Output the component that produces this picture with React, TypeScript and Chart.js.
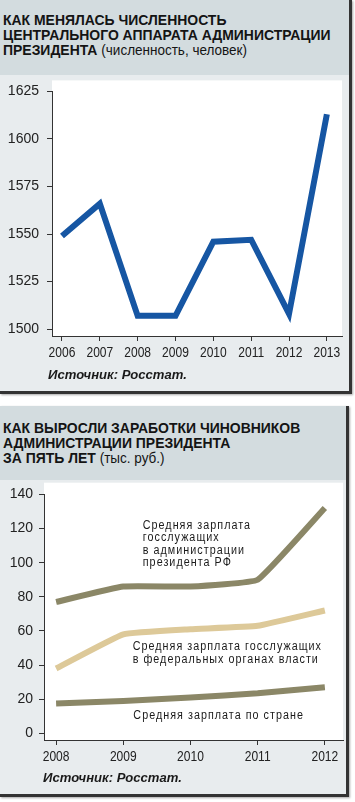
import React, { useEffect, useRef } from "react";
import { Chart, registerables } from "chart.js";

Chart.register(...registerables);

// ---------- data: chart 1 ----------
const YEARS_1 = [2006, 2007, 2008, 2009, 2010, 2011, 2012, 2013];
const STAFF = [1549, 1566, 1507, 1507, 1546, 1547, 1508, 1613];
const Y_TICKS_1 = [1500, 1525, 1550, 1575, 1600, 1625];

// ---------- data: chart 2 ----------
const YEARS_2 = [2008, 2009, 2010, 2011, 2012];
const SALARY_ADMIN = [77, 86, 86, 90, 132];
const SALARY_FED = [38, 58, 61, 63, 72];
const SALARY_COUNTRY = [17.5, 19, 21, 23.5, 27];
const Y_TICKS_2 = [0, 20, 40, 60, 80, 100, 120, 140];

const NOTE_ADMIN = ["Средняя зарплата", "госслужащих", "в администрации", "президента РФ"];
const NOTE_FED = ["Средняя зарплата госслужащих", "в федеральных органах власти"];
const NOTE_COUNTRY = ["Средняя зарплата по стране"];
const NOTE_ANCHORS = [
  [2009.29, 121.8],
  [2009.14, 50.8],
  [2009.15, 10.6],
];

const SANS = '"Liberation Sans", Arial, Helvetica, sans-serif';

const BLUE = "#1656a3";
const OLIVE = "#8b8767";
const TAN = "#ddc999";
const AXIS = "#333333";
const TITLE_BG = "#d3dcdf";
const BODY_BG = "#e8ecee";

function narrowText(ctx: any, text: string, x: number, y: number, font: string, k: number, align: string, spacing = "0px") {
  ctx.save();
  ctx.font = font;
  ctx.letterSpacing = spacing;
  ctx.textAlign = align;
  ctx.textBaseline = "middle";
  ctx.translate(x, y);
  ctx.scale(k, 1);
  ctx.fillText(text, 0, 0);
  ctx.restore();
}

const whiteArea = (extra: number) => ({
  id: "whiteArea",
  beforeDraw(chart: any) {
    const { ctx, chartArea } = chart;
    ctx.save();
    ctx.fillStyle = "#ffffff";
    ctx.fillRect(
      chartArea.left,
      chartArea.top - extra,
      chartArea.right - chartArea.left,
      chartArea.bottom - chartArea.top + extra
    );
    ctx.restore();
  },
});

const xLabels = (years: number[], dy: number) => ({
  id: "xLabels",
  afterDraw(chart: any) {
    const xs = chart.scales.x;
    const ctx = chart.ctx;
    ctx.save();
    ctx.fillStyle = "#222";
    years.forEach((v) => {
      narrowText(ctx, String(v), xs.getPixelForValue(v), xs.top + dy, `14px ${SANS}`, 0.86, "center");
    });
    ctx.restore();
  },
});

function axisOpts(min: number, max: number, ticks: number[], fit: (s: any) => void, showLabels: boolean, pad: number) {
  return {
    type: "linear" as const,
    min,
    max,
    afterBuildTicks: (s: any) => {
      s.ticks = ticks.map((v) => ({ value: v }));
    },
    afterFit: fit,
    grid: {
      display: true,
      drawOnChartArea: false,
      drawTicks: true,
      tickLength: 5,
      color: AXIS,
      lineWidth: 1,
    },
    border: { display: true, color: AXIS, width: 1 },
    ticks: {
      display: showLabels,
      color: "#222",
      font: { family: SANS, size: 14 },
      padding: pad,
      autoSkip: false,
      maxRotation: 0,
      callback: (v: any) => String(v),
    },
  };
}

function StaffChart() {
  const ref = useRef<HTMLCanvasElement>(null);
  useEffect(() => {
    const chart = new Chart(ref.current!, {
      type: "line",
      data: {
        datasets: [
          {
            data: YEARS_1.map((x, i) => ({ x, y: STAFF[i] })),
            borderColor: BLUE,
            borderWidth: 6,
            pointRadius: 0,
            borderJoinStyle: "miter",
            borderCapStyle: "butt",
            tension: 0,
          },
        ],
      },
      options: {
        animation: false,
        responsive: false,
        devicePixelRatio: 1,
        layout: { padding: { left: 0, right: 7, top: 11, bottom: 0 } },
        plugins: { legend: { display: false }, tooltip: { enabled: false } },
        scales: {
          x: axisOpts(2005.736, 2013.4, YEARS_1, (s: any) => { s.height = 55; }, false, 3),
          y: axisOpts(1496.4, 1625, Y_TICKS_1, (s: any) => { s.width = 52; }, true, 8),
        },
      },
      plugins: [whiteArea(11), xLabels(YEARS_1, 17.5)],
    } as any);
    return () => chart.destroy();
  }, []);
  return <canvas ref={ref} width={349} height={316} style={{ position: "absolute", left: 0, top: 75 }} />;
}

function SalaryChart() {
  const ref = useRef<HTMLCanvasElement>(null);
  useEffect(() => {
    const mk = (vals: number[], color: string) => ({
      data: YEARS_2.map((x, i) => ({ x, y: vals[i] })),
      borderColor: color,
      borderWidth: 6,
      pointRadius: 0,
      borderJoinStyle: "round",
      borderCapStyle: "butt",
      tension: 0.1,
    });
    const notes = {
      id: "notes",
      afterDatasetsDraw(chart: any) {
        const { ctx } = chart;
        const xs = chart.scales.x;
        const ys = chart.scales.y;
        const blocks = [NOTE_ADMIN, NOTE_FED, NOTE_COUNTRY];
        ctx.save();
        ctx.fillStyle = "#1a1a1a";
        blocks.forEach((lines, b) => {
          const px = xs.getPixelForValue(NOTE_ANCHORS[b][0]);
          const py = ys.getPixelForValue(NOTE_ANCHORS[b][1]);
          lines.forEach((t, i) => narrowText(ctx, t, px, py + i * 12.5, `12.5px ${SANS}`, 0.86, "left", "1.2px"));
        });
        ctx.restore();
      },
    };
    const chart = new Chart(ref.current!, {
      type: "line",
      data: {
        datasets: [mk(SALARY_ADMIN, OLIVE), mk(SALARY_FED, TAN), mk(SALARY_COUNTRY, OLIVE)],
      },
      options: {
        animation: false,
        responsive: false,
        devicePixelRatio: 1,
        layout: { padding: { left: 0, right: 3, top: 11.7, bottom: 0 } },
        plugins: { legend: { display: false }, tooltip: { enabled: false } },
        scales: {
          x: axisOpts(2007.82, 2012.27, YEARS_2, (s: any) => { s.height = 54; }, false, 3),
          y: axisOpts(-3.9, 140, Y_TICKS_2, (s: any) => { s.width = 44; }, true, 6),
        },
      },
      plugins: [whiteArea(11.7), notes, xLabels(YEARS_2, 17)],
    } as any);
    return () => chart.destroy();
  }, []);
  return <canvas ref={ref} width={346} height={314} style={{ position: "absolute", left: 0, top: 74 }} />;
}

const TITLE_K = 0.9;

const titleBox: React.CSSProperties = {
  position: "absolute",
  left: 0,
  top: 0,
  right: 0,
  background: TITLE_BG,
};

const titleText: React.CSSProperties = {
  position: "absolute",
  left: 3,
  whiteSpace: "nowrap",
  transform: `scaleX(${TITLE_K})`,
  transformOrigin: "left top",
  fontFamily: SANS,
  fontWeight: "bold",
  fontSize: 15.5,
  lineHeight: "15px",
  color: "#141414",
};

const sub: React.CSSProperties = { fontWeight: "normal", fontSize: 15 };

const sourceStyle: React.CSSProperties = {
  position: "absolute",
  whiteSpace: "nowrap",
  transform: "scaleX(0.97)",
  transformOrigin: "left top",
  fontFamily: SANS,
  fontStyle: "italic",
  fontWeight: "bold",
  fontSize: 13.5,
  color: "#1a1a1a",
  lineHeight: "16px",
};

const panelStyle: React.CSSProperties = {
  position: "absolute",
  left: 0,
  background: BODY_BG,
  borderRight: `3px solid ${AXIS}`,
  borderBottom: `3px solid ${AXIS}`,
  boxShadow: "1px 1px 2px rgba(0,0,0,0.35)",
};

export default function App() {
  return (
    <div style={{ position: "relative", width: 355, height: 802, overflow: "hidden", background: "#fff" }}>
      <style>{`body{margin:0}`}</style>
      <div style={{ ...panelStyle, top: 0, width: 349, height: 391 }}>
        <div style={{ ...titleBox, height: 75 }}>
          <div style={{ ...titleText, top: 12 }}>
            КАК МЕНЯЛАСЬ ЧИСЛЕННОСТЬ
            <br />
            ЦЕНТРАЛЬНОГО АППАРАТА АДМИНИСТРАЦИИ
            <br />
            ПРЕЗИДЕНТА <span style={sub}>(численность, человек)</span>
          </div>
        </div>
        <StaffChart />
        <div style={{ ...sourceStyle, left: 48, top: 367 }}>Источник: Росстат.</div>
      </div>
      <div style={{ ...panelStyle, top: 406, width: 346, height: 388 }}>
        <div style={{ ...titleBox, height: 74 }}>
          <div style={{ ...titleText, top: 14 }}>
            КАК ВЫРОСЛИ ЗАРАБОТКИ ЧИНОВНИКОВ
            <br />
            АДМИНИСТРАЦИИ ПРЕЗИДЕНТА
            <br />
            ЗА ПЯТЬ ЛЕТ <span style={sub}>(тыс. руб.)</span>
          </div>
        </div>
        <SalaryChart />
        <div style={{ ...sourceStyle, left: 43, top: 364 }}>Источник: Росстат.</div>
      </div>
    </div>
  );
}
